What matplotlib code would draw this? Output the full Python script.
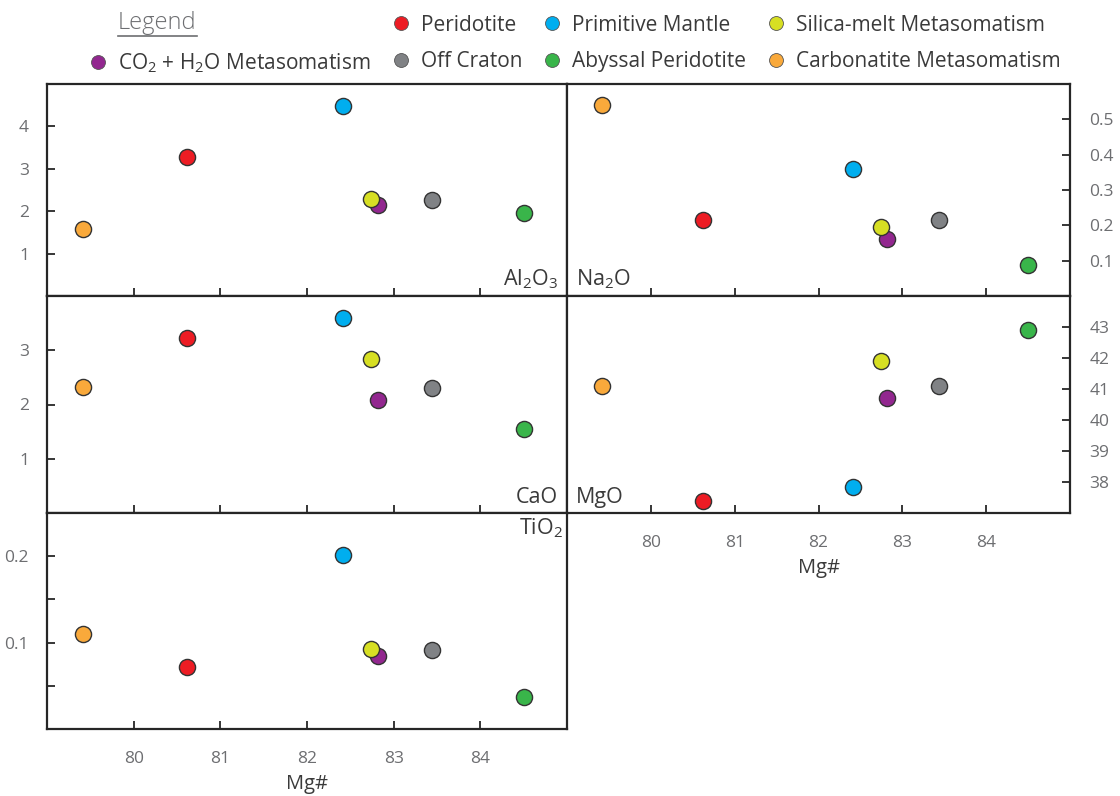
import matplotlib
matplotlib.use("Agg")
import matplotlib.pyplot as plt
from matplotlib.lines import Line2D

plt.rcParams["font.family"] = ["Open Sans", "DejaVu Sans"]
plt.rcParams["mathtext.fontset"] = "custom"
plt.rcParams["mathtext.rm"] = "Open Sans"
plt.rcParams["mathtext.it"] = "Open Sans"

# sample groups (plot order: purple drawn before yellow so yellow sits on top)
groups = ["Peridotite", "Primitive Mantle", "CO$_2$ + H$_2$O Metasomatism",
          "Silica-melt Metasomatism", "Off Craton", "Abyssal Peridotite",
          "Carbonatite Metasomatism"]
colors = ["#ED1C24", "#00AEEF", "#92278F", "#D7DF23", "#808285", "#39B54A", "#F9A93B"]

mg_num = [80.62, 82.41, 82.82, 82.74, 83.44, 84.50, 79.42]
al2o3 = [3.29, 4.47, 2.14, 2.28, 2.26, 1.95, 1.58]
na2o = [0.215, 0.36, 0.16, 0.195, 0.215, 0.088, 0.54]
cao = [3.22, 3.59, 2.09, 2.83, 2.31, 1.54, 2.32]
mgo = [37.4, 37.85, 40.7, 41.9, 41.1, 42.9, 41.1]
tio2 = [0.072, 0.201, 0.084, 0.093, 0.092, 0.037, 0.110]

x_ticks = [80, 81, 82, 83, 84]

TXT = "#3a3a3a"
TICK_TXT = "#6d6e71"
SPINE = "#262626"

fig = plt.figure(figsize=(11.2, 7.96), dpi=100)

W, H = 1120, 796


def px_axes(x0, y0, x1, y1):
    return fig.add_axes([x0 / W, 1 - y1 / H, (x1 - x0) / W, (y1 - y0) / H])


panels = [
    # values, label, box, ylim, yticks, side, label pos
    (al2o3, "Al$_2$O$_3$", (47, 84, 567, 296), (0, 5), [1, 2, 3, 4], "left", "br"),
    (na2o, "Na$_2$O", (567, 84, 1070, 296), (0, 0.6), [0.1, 0.2, 0.3, 0.4, 0.5], "right", "bl"),
    (cao, "CaO", (47, 296, 567, 513), (0, 4), [1, 2, 3], "left", "br"),
    (mgo, "MgO", (567, 296, 1070, 513), (37, 44), [38, 39, 40, 41, 42, 43], "right", "bl"),
    (tio2, "TiO$_2$", (47, 513, 567, 729), (0, 0.25), [0.1, 0.2], "left", "tr"),
]

for vals, name, box, ylim, yticks, side, lpos in panels:
    ax = px_axes(*box)
    for x, y, c in zip(mg_num, vals, colors):
        ax.scatter(x, y, s=135, color=c, edgecolor="#333333", linewidth=1.0, zorder=3)
    ax.set_xlim(79, 85)
    ax.set_ylim(*ylim)
    ax.set_xticks(x_ticks)
    ax.set_yticks(yticks)
    if name.startswith("TiO"):
        ax.set_yticks([0.05, 0.15], minor=True)
        ax.set_yticklabels(["0.1", "0.2"])
    for sp in ax.spines.values():
        sp.set_color(SPINE)
        sp.set_linewidth(1.6)
    ax.tick_params(axis="both", which="both", direction="in", length=6, width=1.3,
                   color=SPINE, labelcolor=TICK_TXT, labelsize=12.5, pad=13)
    ax.tick_params(axis="x", pad=16)
    if side == "right":
        ax.yaxis.tick_right()
        ax.tick_params(axis="y", pad=14)
    bottom = name.startswith("TiO") or name == "MgO"
    if bottom:
        ax.set_xlabel("Mg#", fontsize=14.5, color=TXT, labelpad=5)
    else:
        ax.tick_params(axis="x", labelbottom=False)
    if lpos == "br":
        ax.text(0.982, 0.025, name, transform=ax.transAxes, ha="right", va="bottom",
                fontsize=15.5, color=TXT)
    elif lpos == "bl":
        ax.text(0.018, 0.025, name, transform=ax.transAxes, ha="left", va="bottom",
                fontsize=15.5, color=TXT)
    else:
        ax.text(0.992, 0.985, name, transform=ax.transAxes, ha="right", va="top",
                fontsize=15.5, color=TXT)

# legend: column-major with 4 columns, first slot left blank for the "Legend" title
legend_order = [None, 2, 0, 4, 1, 5, 3, 6]
handles, labels = [], []
for i in legend_order:
    if i is None:
        handles.append(Line2D([], [], linestyle="none", marker=None))
        labels.append(" ")
    else:
        handles.append(Line2D([], [], linestyle="none", marker="o", markersize=10,
                              markerfacecolor=colors[i], markeredgecolor="#555555",
                              markeredgewidth=0.6))
        labels.append(groups[i])

leg = fig.legend(handles, labels, ncol=4, loc="upper left", bbox_to_anchor=(0.0804, 0.9815),
                 frameon=False, fontsize=15, handlelength=0.8, handletextpad=0.55,
                 columnspacing=1.05, labelspacing=0.74, borderpad=0, borderaxespad=0)
for t in leg.get_texts():
    t.set_color(TXT)

title = fig.text(118 / W, 1 - 23 / H, "Legend", ha="left", va="center", fontsize=17,
                 color="#6d6e71", fontweight="light")
fig.canvas.draw()
bb = title.get_window_extent().transformed(fig.transFigure.inverted())
fig.add_artist(Line2D([bb.x0, bb.x1], [bb.y0 - 0.001, bb.y0 - 0.001],
                      transform=fig.transFigure, color="#6d6e71", linewidth=1.2))

fig.savefig("out.png", dpi=100)
